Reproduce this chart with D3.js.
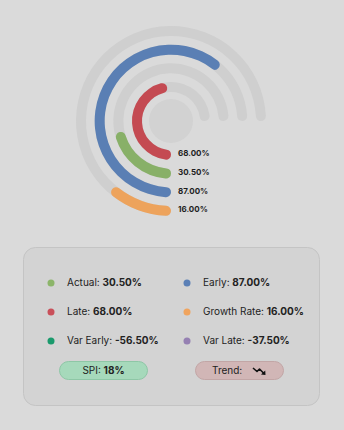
<!DOCTYPE html>
<html><head><meta charset="utf-8">
<script src="https://cdn.jsdelivr.net/npm/d3@7"></script>
<style>
html,body{margin:0;padding:0;background:#dadada;}
svg{display:block;font-family:Inter,"Noto Sans",sans-serif;}
</style></head>
<body>
<svg id="chart" width="344" height="430"></svg>
<script>
// ---- data ----
const ringNames = ["Late", "Actual", "Early", "Growth Rate"];
const ringValues = [68.0, 30.5, 87.0, 16.0];
const ringColors = ["#c44a52", "#88b068", "#5a7fb4", "#eda35c"];

const legendLabels = ["Actual", "Early", "Late", "Growth Rate", "Var Early", "Var Late"];
const legendValues = [30.5, 87.0, 68.0, 16.0, -56.5, -37.5];
const legendColors = ["#8cb56a", "#5b80b6", "#c9505a", "#f0a45e", "#1a9a6c", "#9580b2"];

const spiValue = 18;
const trendLabel = "Trend:";

// ---- layout ----
const svg = d3.select("#chart");
const cx = 171, cy = 121;
const thick = 10;

const rScale = d3.scalePoint().domain(ringNames).range([34, 90]);
const aScale = d3.scaleLinear().domain([0, 100]).range([0, 255 * Math.PI / 180]);
const trackSpan = 1.5 * Math.PI;

const g = svg.append("g").attr("transform", `translate(${cx},${cy})`);

g.append("circle").attr("r", 22).attr("fill", "#d2d2d2");

const arc = d3.arc().cornerRadius(thick / 2);

ringNames.forEach((name, i) => {
  const r = rScale(name);
  g.append("path")
    .attr("d", arc({innerRadius: r - thick / 2, outerRadius: r + thick / 2, startAngle: Math.PI, endAngle: Math.PI + trackSpan}))
    .attr("fill", "#cfcfcf");
});
ringNames.forEach((name, i) => {
  const r = rScale(name);
  g.append("path")
    .attr("d", arc({innerRadius: r - thick / 2, outerRadius: r + thick / 2, startAngle: Math.PI, endAngle: Math.PI + aScale(ringValues[i])}))
    .attr("fill", ringColors[i]);
  g.append("text")
    .attr("x", 7).attr("y", r - 1)
    .attr("dominant-baseline", "middle")
    .attr("font-size", 8).attr("font-weight", 700).attr("fill", "#1e1e1e")
    .text(ringValues[i].toFixed(2) + "%");
});

// ---- panel ----
svg.append("rect")
  .attr("x", 23.5).attr("y", 247.5).attr("width", 296).attr("height", 158)
  .attr("rx", 12).attr("fill", "#d3d3d3").attr("stroke", "#c4c4c4");

const colX = [51, 187];
const rowY = [283, 312, 341];
legendLabels.forEach((lab, i) => {
  const x = colX[i % 2], y = rowY[Math.floor(i / 2)];
  svg.append("circle").attr("cx", x).attr("cy", y).attr("r", 3.5).attr("fill", legendColors[i]);
  const t = svg.append("text").attr("x", x + 16).attr("y", y)
    .attr("dominant-baseline", "middle").attr("font-size", 10).attr("fill", "#222");
  t.append("tspan").text(lab + ": ");
  t.append("tspan").attr("font-weight", 700).text(legendValues[i].toFixed(2) + "%");
});

// SPI pill
svg.append("rect").attr("x", 59.5).attr("y", 361.5).attr("width", 88).attr("height", 18).attr("rx", 9)
  .attr("fill", "#a6d9bb").attr("stroke", "#8ec7a6");
const st = svg.append("text").attr("x", 103.5).attr("y", 371).attr("text-anchor", "middle")
  .attr("dominant-baseline", "middle").attr("font-size", 10).attr("fill", "#222");
st.append("tspan").text("SPI: ");
st.append("tspan").attr("font-weight", 700).text(spiValue + "%");

// Trend pill
svg.append("rect").attr("x", 195.5).attr("y", 361.5).attr("width", 88).attr("height", 18).attr("rx", 9)
  .attr("fill", "#d1b6b6").attr("stroke", "#c2a6a6");
svg.append("text").attr("x", 212).attr("y", 371)
  .attr("dominant-baseline", "middle").attr("font-size", 10).attr("fill", "#222").text(trendLabel);
const ic = svg.append("g").attr("transform", "translate(253,367)");
ic.append("path").attr("d", "M0,1 L4,4.5 L6.5,2 L11,6.5")
  .attr("fill", "none").attr("stroke", "#111").attr("stroke-width", 1.6).attr("stroke-linejoin", "round");
ic.append("path").attr("d", "M12.5,8 L8,7.6 L12.2,3.4 Z").attr("fill", "#111");
</script>
</body></html>
